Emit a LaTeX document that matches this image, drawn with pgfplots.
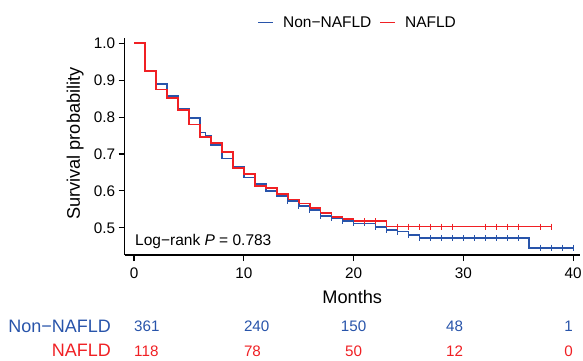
\documentclass[border=0pt]{standalone}
\usepackage{fontspec}
\setmainfont{Liberation Sans}
\usepackage{pgfplots}
\pgfplotsset{compat=1.18}
\definecolor{cblue}{RGB}{40,84,170}
\definecolor{cred}{RGB}{240,32,36}
\begin{document}
\begin{tikzpicture}
\useasboundingbox (0,0) rectangle (583pt,360pt);
\begin{axis}[
  at={(124.7pt,105pt)}, anchor=south west,
  scale only axis, width=455pt, height=217.2pt,
  xmin=-0.85, xmax=40.6, ymin=0.4263, ymax=1.015,
  axis lines=left, axis line style={-, line width=1.1pt, black},
  clip=false,
  xtick={0,10,20,30,40}, xticklabels={0,10,20,30,40},
  ytick={0.5,0.6,0.7,0.8,0.9,1.0}, yticklabels={0.5,0.6,0.7,0.8,0.9,1.0},
  tick align=outside, major tick length=6pt,
  tick style={line width=1.1pt, black},
  tick label style={font=\fontsize{15.3}{16}\selectfont},
  xticklabel style={yshift=-3.5pt},
  xlabel={Months}, ylabel={Survival probability},
  label style={font=\fontsize{18.2}{19}\selectfont},
  xlabel style={at={(axis description cs:0.5,-0.192)}, anchor=center},
  ylabel style={at={(axis description cs:-0.109,0.513)}, anchor=center},
  legend style={draw=none, fill=none, at={(0.512,1.07)}, anchor=center,
    legend columns=2, font=\fontsize{15.5}{16}\selectfont,
    /tikz/column 1/.style={column sep=7pt},
    /tikz/column 2/.style={column sep=6pt},
    /tikz/column 3/.style={column sep=7pt}},
  legend image code/.code={\draw[#1, line width=1.7pt] (0pt,0pt) -- (15pt,0pt);},
]
\addplot[const plot, cblue, line width=1.7pt] coordinates {
(0,1.0) (1,0.925) (2,0.889) (3,0.857) (4,0.822) (5,0.797) (6,0.758) (6.5,0.749)
(7,0.724) (8,0.688) (9,0.666) (10,0.636) (11,0.619) (12,0.600) (13,0.587)
(14,0.573) (15,0.560) (16,0.548) (17,0.532) (18,0.526) (19,0.519) (20,0.512)
(22,0.503) (23,0.494) (24,0.490) (25,0.481) (26,0.473) (36,0.446) (40,0.446)};
\addlegendentry{Non−NAFLD}
\addplot[const plot, cred, line width=1.7pt] coordinates {
(0,1.0) (1,0.925) (2,0.875) (3,0.851) (4,0.819) (5,0.780) (6,0.747) (7,0.729)
(8,0.705) (9,0.663) (10,0.645) (11,0.613) (12,0.607) (13,0.592) (14,0.577)
(15,0.566) (16,0.553) (17,0.540) (18,0.530) (19,0.523) (20,0.518) (23,0.5035)
(38,0.5035)};
\addlegendentry{NAFLD}
\addplot[only marks, mark=|, mark size=3pt, cblue, mark options={line width=0.9pt}, forget plot] coordinates {
(14,0.573) (15,0.560) (16,0.548) (17,0.532) (18,0.526) (19,0.519) (20,0.512)
(21,0.512) (22,0.503) (23,0.494) (24,0.490) (25,0.481) (26,0.473) (27,0.473)
(28,0.473) (29,0.473) (30,0.473) (31,0.473) (32,0.473) (33,0.473) (34,0.473)
(35,0.473) (37,0.446) (38,0.446) (39,0.446) (40,0.446)};
\addplot[only marks, mark=|, mark size=3pt, cred, mark options={line width=0.9pt}, forget plot] coordinates {
(21,0.518) (22,0.518) (24,0.5035) (25,0.5035) (26,0.5035) (27,0.5035) (28,0.5035)
(29,0.5035) (32,0.5035) (33,0.5035) (34,0.5035) (35,0.5035) (37,0.5035) (38,0.5035)};
\node[anchor=base west, inner sep=0pt, font=\fontsize{15.5}{16}\selectfont] at (axis cs:0.09,0.452) {Log−rank \textit{P} = 0.783};
% risk table
\node[anchor=base east, inner sep=0pt, text=cblue, font=\fontsize{18}{18}\selectfont] at (axis cs:-2.096,0.2175) {Non−NAFLD};
\node[anchor=base east, inner sep=0pt, text=cred, font=\fontsize{18}{18}\selectfont] at (axis cs:-2.096,0.1505) {NAFLD};
\begin{scope}[every node/.style={inner sep=0pt, font=\fontsize{15.2}{16}\selectfont}]
\node[anchor=base west, text=cblue] at (axis cs:0,0.2192) {361};
\node[anchor=base west, text=cblue] at (axis cs:10,0.2192) {240};
\node[anchor=base, text=cblue] at (axis cs:20,0.2192) {150};
\node[anchor=base east, text=cblue] at (axis cs:30,0.2192) {48};
\node[anchor=base east, text=cblue] at (axis cs:40,0.2192) {1};
\node[anchor=base west, text=cred] at (axis cs:0,0.1505) {118};
\node[anchor=base west, text=cred] at (axis cs:10,0.1505) {78};
\node[anchor=base, text=cred] at (axis cs:20,0.1505) {50};
\node[anchor=base east, text=cred] at (axis cs:30,0.1505) {12};
\node[anchor=base east, text=cred] at (axis cs:40,0.1505) {0};
\end{scope}
\end{axis}
\end{tikzpicture}
\end{document}
